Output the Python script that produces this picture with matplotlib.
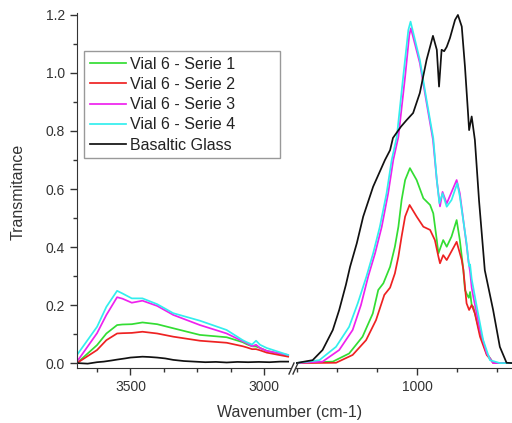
import matplotlib
matplotlib.use("Agg")
import matplotlib.pyplot as plt
from matplotlib.lines import Line2D
from matplotlib.ticker import MultipleLocator, FormatStrFormatter

plt.rcParams['font.family'] = ['Liberation Sans', 'DejaVu Sans']

labels = ["Vial 6 - Serie 1", "Vial 6 - Serie 2", "Vial 6 - Serie 3",
          "Vial 6 - Serie 4", "Basaltic Glass"]
colors = ["#33dd33", "#ee2222", "#ee22ee", "#33eeee", "#111111"]

# ---- high wavenumber region (left panel) ----
wn_hi = [3700, 3625, 3590, 3550, 3530, 3495, 3455, 3400, 3340, 3240, 3140,
         3080, 3065, 3045, 3030, 3015, 2990, 2910]
s1_hi = [0.0, 0.062, 0.102, 0.131, 0.133, 0.134, 0.140, 0.134, 0.120, 0.097,
         0.089, 0.072, 0.065, 0.058, 0.057, 0.052, 0.042, 0.025]
s2_hi = [0.0, 0.045, 0.079, 0.102, 0.103, 0.104, 0.108, 0.102, 0.091, 0.077,
         0.070, 0.058, 0.054, 0.048, 0.048, 0.044, 0.036, 0.022]
s3_hi = [0.005, 0.103, 0.166, 0.227, 0.222, 0.208, 0.215, 0.197, 0.166, 0.131,
         0.102, 0.075, 0.069, 0.058, 0.063, 0.052, 0.042, 0.028]
s4_hi = [0.028, 0.125, 0.194, 0.249, 0.240, 0.223, 0.223, 0.203, 0.172, 0.146,
         0.114, 0.079, 0.072, 0.064, 0.077, 0.063, 0.052, 0.028]
bg_wn_hi = [3700, 3660, 3625, 3600, 3570, 3550, 3520, 3500, 3470, 3455, 3430,
            3400, 3370, 3340, 3300, 3260, 3220, 3180, 3140, 3100, 3060, 3020,
            2980, 2940, 2910]
bg_hi = [0.0, -0.002, 0.003, 0.005, 0.009, 0.012, 0.016, 0.019, 0.021, 0.022,
         0.021, 0.019, 0.016, 0.011, 0.007, 0.005, 0.003, 0.004, 0.002, 0.004,
         0.003, 0.004, 0.003, 0.005, 0.005]

# ---- low wavenumber region (right panel) ----
s1_wn = [1378, 1263, 1212, 1170, 1138, 1121, 1105, 1084, 1069, 1058, 1048,
         1037, 1022, 1001, 980, 959, 949, 938, 933, 918, 907, 892, 876, 866,
         855, 850, 843, 838, 834, 829, 824, 803, 782, 761, 703]
s1_lo = [0.0, 0.005, 0.033, 0.091, 0.171, 0.252, 0.275, 0.332, 0.401, 0.470,
         0.562, 0.631, 0.672, 0.631, 0.568, 0.545, 0.516, 0.424, 0.378, 0.424,
         0.401, 0.436, 0.493, 0.424, 0.321, 0.252, 0.235, 0.225, 0.245, 0.200,
         0.194, 0.102, 0.033, 0.0, 0.0]
s2_wn = [1378, 1253, 1201, 1159, 1128, 1102, 1084, 1069, 1058, 1048, 1037,
         1023, 1001, 980, 959, 944, 933, 928, 918, 907, 876, 860, 855, 845,
         837, 829, 819, 803, 782, 761, 703]
s2_lo = [0.0, 0.001, 0.028, 0.079, 0.148, 0.235, 0.260, 0.309, 0.367, 0.436,
         0.505, 0.545, 0.505, 0.470, 0.459, 0.424, 0.367, 0.344, 0.372, 0.355,
         0.418, 0.355, 0.321, 0.206, 0.183, 0.200, 0.171, 0.091, 0.028, 0.0,
         0.0]
s3_wn = [1378, 1295, 1243, 1201, 1175, 1152, 1131, 1110, 1090, 1074, 1058,
         1037, 1024, 1019, 991, 970, 950, 938, 928, 920, 907, 876, 866, 843,
         839, 834, 829, 824, 803, 782, 762, 703]
s3_lo = [0.0, 0.005, 0.045, 0.114, 0.200, 0.300, 0.378, 0.470, 0.585, 0.700,
         0.780, 0.987, 1.130, 1.154, 1.034, 0.897, 0.770, 0.630, 0.540, 0.590,
         0.550, 0.631, 0.585, 0.390, 0.350, 0.315, 0.260, 0.229, 0.114, 0.033,
         0.0, 0.0]
s4_wn = [1378, 1305, 1253, 1212, 1185, 1158, 1137, 1116, 1095, 1079, 1063,
         1043, 1027, 1020, 991, 970, 949, 938, 930, 920, 907, 892, 874, 866,
         845, 841, 837, 834, 829, 813, 793, 772, 741, 703]
s4_lo = [0.0, 0.010, 0.056, 0.125, 0.206, 0.298, 0.378, 0.470, 0.585, 0.700,
         0.780, 0.987, 1.148, 1.177, 1.045, 0.907, 0.775, 0.631, 0.551, 0.585,
         0.539, 0.562, 0.620, 0.574, 0.413, 0.370, 0.335, 0.340, 0.290, 0.194,
         0.079, 0.010, 0.0, 0.0]
bg_wn = [1378, 1326, 1295, 1263, 1243, 1222, 1209, 1188, 1168, 1137, 1100,
         1084, 1075, 1050, 1032, 1022, 1012, 991, 970, 950, 938, 931, 923,
         915, 907, 897, 881, 872, 860, 850, 841, 837, 829, 819, 806, 788, 762,
         741, 720, 703]
bg_lo = [0.0, 0.010, 0.045, 0.114, 0.183, 0.270, 0.332, 0.413, 0.505, 0.608,
         0.700, 0.734, 0.776, 0.815, 0.838, 0.850, 0.862, 0.931, 1.045, 1.128,
         1.080, 0.953, 1.080, 1.075, 1.090, 1.120, 1.183, 1.200, 1.160, 1.022,
         0.872, 0.803, 0.850, 0.769, 0.560, 0.320, 0.183, 0.056, 0.001, 0.0]

hi_series = [(wn_hi, s1_hi), (wn_hi, s2_hi), (wn_hi, s3_hi), (wn_hi, s4_hi),
             (bg_wn_hi, bg_hi)]
lo_series = [(s1_wn, s1_lo), (s2_wn, s2_lo), (s3_wn, s3_lo), (s4_wn, s4_lo),
             (bg_wn, bg_lo)]

W, H = 512, 423
fig = plt.figure(figsize=(W / 100, H / 100), dpi=100)
bot = (H - 368) / H
hgt = (368 - 13.5) / H
axL = fig.add_axes([77 / W, bot, 213 / W, hgt])
axR = fig.add_axes([296 / W, bot, 216 / W, hgt])

spine_c = "#333333"
lw = 1.25
for (x, y), c in zip(hi_series, colors):
    axL.plot(x, y, color=c, lw=lw)
handles = []
for (x, y), c, lab in zip(lo_series, colors, labels):
    h, = axR.plot(x, y, color=c, lw=lw, label=lab)
    handles.append(h)

for ax in (axL, axR):
    ax.set_ylim(-0.017, 1.205)
    for s in ("top", "right"):
        ax.spines[s].set_visible(False)
    ax.spines["bottom"].set_color(spine_c)
    ax.spines["left"].set_color(spine_c)
    ax.tick_params(axis="both", which="major", direction="out", length=5,
                   width=1, color=spine_c, labelsize=10, labelcolor="#333333")
    ax.tick_params(axis="both", which="minor", direction="out", length=3,
                   width=1, color=spine_c)
    ax.xaxis.set_major_locator(MultipleLocator(500))
    ax.xaxis.set_minor_locator(MultipleLocator(125))
    ax.set_facecolor("none")

axL.set_xlim(3700, 2903)
axR.set_xlim(1378, 703)
axL.yaxis.set_major_locator(MultipleLocator(0.2))
axL.yaxis.set_minor_locator(MultipleLocator(0.1))
axL.yaxis.set_major_formatter(FormatStrFormatter("%.1f"))
axR.spines["left"].set_visible(False)
axR.tick_params(axis="y", which="both", left=False, labelleft=False)

# axis break marks
yb = 368
for dx in (0, 4):
    fig.add_artist(Line2D([(289 + dx) / W, (294 + dx) / W],
                          [(H - yb - 6) / H, (H - yb + 5) / H],
                          color=spine_c, lw=1))

fig.text(290 / W, (H - 412) / H, "Wavenumber (cm-1)", ha="center",
         va="center", fontsize=11.5, color="#333333")
fig.text(18 / W, (H - 192) / H, "Transmitance", ha="center", va="center",
         rotation=90, fontsize=11.5, color="#333333")

leg = fig.legend(handles=handles, loc="upper left",
                 bbox_to_anchor=(84 / W, (H - 153) / H, (280 - 84) / W,
                                 (153 - 51) / H),
                 mode="expand", borderaxespad=0, fontsize=11.5,
                 handlelength=2.3, handletextpad=0.25, borderpad=0.35,
                 labelspacing=0.33, fancybox=False, framealpha=1,
                 edgecolor="#999999")
leg.get_frame().set_linewidth(1)
for t in leg.get_texts():
    t.set_color("#222222")

fig.savefig("out.png", dpi=100)
